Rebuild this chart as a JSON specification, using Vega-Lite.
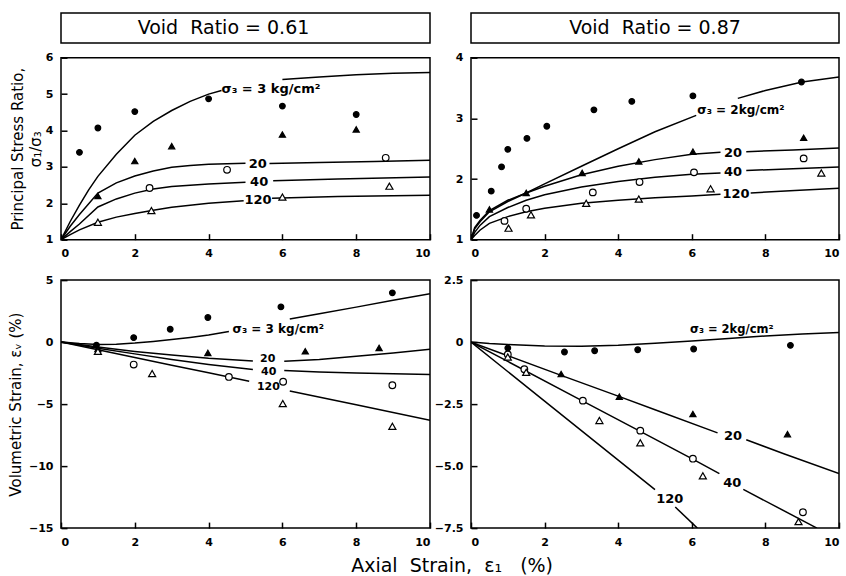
{
  "$schema": "https://vega.github.io/schema/vega-lite/v6.json",
  "background": "white",
  "padding": {"left": 7, "top": 12, "right": 5, "bottom": 5},
  "config": {
    "font": "DejaVu Sans",
    "view": {"stroke": "black", "strokeWidth": 1.5},
    "axis": {
      "grid": false, "zindex": 1, "domain": false, "offset": -6,
      "ticks": true, "tickColor": "black", "tickWidth": 1.5, "tickSize": 6,
      "labelPadding": 8, "labelColor": "black", "labelFontSize": 11, "labelFontWeight": "bold",
      "titleColor": "black", "titleFontSize": 15, "titleFontWeight": "normal"
    }
  },
  "title": {"text": "Axial\u00a0\u00a0Strain,\u00a0\u00a0ε₁\u00a0\u00a0\u00a0(%)", "orient": "bottom", "anchor": "middle", "fontSize": 19, "fontWeight": "normal", "offset": 9, "dx": 28, "color": "black"},
  "datasets": {
    "lines": [
      {"panel":"TL","seg":"3a","x":0,"y":1},{"panel":"TL","seg":"3a","x":0.25,"y":1.5},{"panel":"TL","seg":"3a","x":0.5,"y":1.95},{"panel":"TL","seg":"3a","x":0.75,"y":2.37},{"panel":"TL","seg":"3a","x":1,"y":2.74},{"panel":"TL","seg":"3a","x":1.5,"y":3.35},{"panel":"TL","seg":"3a","x":2,"y":3.87},{"panel":"TL","seg":"3a","x":2.5,"y":4.25},{"panel":"TL","seg":"3a","x":3,"y":4.55},{"panel":"TL","seg":"3a","x":3.5,"y":4.8},{"panel":"TL","seg":"3a","x":4,"y":5.0},{"panel":"TL","seg":"3a","x":4.35,"y":5.1},
      {"panel":"TL","seg":"3b","x":6,"y":5.4},{"panel":"TL","seg":"3b","x":7,"y":5.47},{"panel":"TL","seg":"3b","x":8,"y":5.53},{"panel":"TL","seg":"3b","x":9,"y":5.57},{"panel":"TL","seg":"3b","x":10,"y":5.59},
      {"panel":"TL","seg":"20a","x":0,"y":1},{"panel":"TL","seg":"20a","x":0.25,"y":1.37},{"panel":"TL","seg":"20a","x":0.5,"y":1.69},{"panel":"TL","seg":"20a","x":1,"y":2.28},{"panel":"TL","seg":"20a","x":1.5,"y":2.56},{"panel":"TL","seg":"20a","x":2,"y":2.75},{"panel":"TL","seg":"20a","x":2.5,"y":2.89},{"panel":"TL","seg":"20a","x":3,"y":2.99},{"panel":"TL","seg":"20a","x":3.5,"y":3.04},{"panel":"TL","seg":"20a","x":4,"y":3.07},{"panel":"TL","seg":"20a","x":5.0,"y":3.1},
      {"panel":"TL","seg":"20b","x":5.65,"y":3.09},{"panel":"TL","seg":"20b","x":7,"y":3.12},{"panel":"TL","seg":"20b","x":8.5,"y":3.15},{"panel":"TL","seg":"20b","x":10,"y":3.18},
      {"panel":"TL","seg":"40a","x":0,"y":1},{"panel":"TL","seg":"40a","x":0.25,"y":1.22},{"panel":"TL","seg":"40a","x":0.5,"y":1.43},{"panel":"TL","seg":"40a","x":1,"y":1.9},{"panel":"TL","seg":"40a","x":1.5,"y":2.12},{"panel":"TL","seg":"40a","x":2,"y":2.28},{"panel":"TL","seg":"40a","x":2.5,"y":2.39},{"panel":"TL","seg":"40a","x":3,"y":2.46},{"panel":"TL","seg":"40a","x":4,"y":2.53},{"panel":"TL","seg":"40a","x":5.0,"y":2.58},
      {"panel":"TL","seg":"40b","x":5.75,"y":2.62},{"panel":"TL","seg":"40b","x":7.5,"y":2.67},{"panel":"TL","seg":"40b","x":10,"y":2.72},
      {"panel":"TL","seg":"120a","x":0,"y":1},{"panel":"TL","seg":"120a","x":0.25,"y":1.14},{"panel":"TL","seg":"120a","x":0.5,"y":1.27},{"panel":"TL","seg":"120a","x":1,"y":1.48},{"panel":"TL","seg":"120a","x":1.5,"y":1.62},{"panel":"TL","seg":"120a","x":2,"y":1.72},{"panel":"TL","seg":"120a","x":2.5,"y":1.81},{"panel":"TL","seg":"120a","x":3,"y":1.89},{"panel":"TL","seg":"120a","x":4,"y":2.0},{"panel":"TL","seg":"120a","x":4.95,"y":2.07},
      {"panel":"TL","seg":"120b","x":5.72,"y":2.14},{"panel":"TL","seg":"120b","x":7.5,"y":2.19},{"panel":"TL","seg":"120b","x":10,"y":2.22},

      {"panel":"TR","seg":"2a","x":0,"y":1},{"panel":"TR","seg":"2a","x":0.1,"y":1.18},{"panel":"TR","seg":"2a","x":0.25,"y":1.3},{"panel":"TR","seg":"2a","x":0.5,"y":1.46},{"panel":"TR","seg":"2a","x":1,"y":1.63},{"panel":"TR","seg":"2a","x":1.5,"y":1.77},{"panel":"TR","seg":"2a","x":2,"y":1.92},{"panel":"TR","seg":"2a","x":3,"y":2.21},{"panel":"TR","seg":"2a","x":4,"y":2.5},{"panel":"TR","seg":"2a","x":5,"y":2.78},{"panel":"TR","seg":"2a","x":6.12,"y":3.05},
      {"panel":"TR","seg":"2b","x":7.25,"y":3.33},{"panel":"TR","seg":"2b","x":8,"y":3.46},{"panel":"TR","seg":"2b","x":9,"y":3.6},{"panel":"TR","seg":"2b","x":10,"y":3.68},
      {"panel":"TR","seg":"20a","x":0,"y":1},{"panel":"TR","seg":"20a","x":0.1,"y":1.2},{"panel":"TR","seg":"20a","x":0.25,"y":1.32},{"panel":"TR","seg":"20a","x":0.5,"y":1.48},{"panel":"TR","seg":"20a","x":1,"y":1.65},{"panel":"TR","seg":"20a","x":1.5,"y":1.77},{"panel":"TR","seg":"20a","x":2,"y":1.88},{"panel":"TR","seg":"20a","x":3,"y":2.07},{"panel":"TR","seg":"20a","x":4,"y":2.21},{"panel":"TR","seg":"20a","x":5,"y":2.32},{"panel":"TR","seg":"20a","x":6,"y":2.41},{"panel":"TR","seg":"20a","x":6.78,"y":2.44},
      {"panel":"TR","seg":"20b","x":7.48,"y":2.45},{"panel":"TR","seg":"20b","x":8.75,"y":2.48},{"panel":"TR","seg":"20b","x":10,"y":2.51},
      {"panel":"TR","seg":"40a","x":0,"y":1},{"panel":"TR","seg":"40a","x":0.1,"y":1.12},{"panel":"TR","seg":"40a","x":0.25,"y":1.24},{"panel":"TR","seg":"40a","x":0.5,"y":1.38},{"panel":"TR","seg":"40a","x":1,"y":1.53},{"panel":"TR","seg":"40a","x":1.5,"y":1.65},{"panel":"TR","seg":"40a","x":2,"y":1.74},{"panel":"TR","seg":"40a","x":3,"y":1.87},{"panel":"TR","seg":"40a","x":4,"y":1.96},{"panel":"TR","seg":"40a","x":5,"y":2.03},{"panel":"TR","seg":"40a","x":6,"y":2.08},{"panel":"TR","seg":"40a","x":6.78,"y":2.1},
      {"panel":"TR","seg":"40b","x":7.48,"y":2.14},{"panel":"TR","seg":"40b","x":8.75,"y":2.17},{"panel":"TR","seg":"40b","x":10,"y":2.2},
      {"panel":"TR","seg":"120a","x":0,"y":1},{"panel":"TR","seg":"120a","x":0.1,"y":1.07},{"panel":"TR","seg":"120a","x":0.25,"y":1.16},{"panel":"TR","seg":"120a","x":0.5,"y":1.27},{"panel":"TR","seg":"120a","x":1,"y":1.38},{"panel":"TR","seg":"120a","x":1.5,"y":1.46},{"panel":"TR","seg":"120a","x":2,"y":1.52},{"panel":"TR","seg":"120a","x":3,"y":1.6},{"panel":"TR","seg":"120a","x":4,"y":1.65},{"panel":"TR","seg":"120a","x":5,"y":1.69},{"panel":"TR","seg":"120a","x":6,"y":1.72},{"panel":"TR","seg":"120a","x":6.78,"y":1.75},
      {"panel":"TR","seg":"120b","x":7.6,"y":1.77},{"panel":"TR","seg":"120b","x":8.8,"y":1.81},{"panel":"TR","seg":"120b","x":10,"y":1.85},

      {"panel":"BL","seg":"3a","x":0,"y":0},{"panel":"BL","seg":"3a","x":0.5,"y":-0.12},{"panel":"BL","seg":"3a","x":1,"y":-0.2},{"panel":"BL","seg":"3a","x":1.5,"y":-0.17},{"panel":"BL","seg":"3a","x":2,"y":-0.08},{"panel":"BL","seg":"3a","x":2.5,"y":0.05},{"panel":"BL","seg":"3a","x":3,"y":0.2},{"panel":"BL","seg":"3a","x":3.5,"y":0.38},{"panel":"BL","seg":"3a","x":4,"y":0.58},{"panel":"BL","seg":"3a","x":4.55,"y":0.85},
      {"panel":"BL","seg":"3b","x":6.2,"y":1.86},{"panel":"BL","seg":"3b","x":7,"y":2.28},{"panel":"BL","seg":"3b","x":8,"y":2.82},{"panel":"BL","seg":"3b","x":9,"y":3.37},{"panel":"BL","seg":"3b","x":10,"y":3.9},
      {"panel":"BL","seg":"20a","x":0,"y":0},{"panel":"BL","seg":"20a","x":1,"y":-0.4},{"panel":"BL","seg":"20a","x":2,"y":-0.75},{"panel":"BL","seg":"20a","x":3,"y":-1.05},{"panel":"BL","seg":"20a","x":4,"y":-1.3},{"panel":"BL","seg":"20a","x":5.2,"y":-1.52},
      {"panel":"BL","seg":"20b","x":6.05,"y":-1.54},{"panel":"BL","seg":"20b","x":7,"y":-1.4},{"panel":"BL","seg":"20b","x":8,"y":-1.14},{"panel":"BL","seg":"20b","x":9,"y":-0.88},{"panel":"BL","seg":"20b","x":10,"y":-0.57},
      {"panel":"BL","seg":"40a","x":0,"y":0},{"panel":"BL","seg":"40a","x":1,"y":-0.5},{"panel":"BL","seg":"40a","x":2,"y":-0.95},{"panel":"BL","seg":"40a","x":3,"y":-1.4},{"panel":"BL","seg":"40a","x":4,"y":-1.8},{"panel":"BL","seg":"40a","x":5.2,"y":-2.2},
      {"panel":"BL","seg":"40b","x":6.05,"y":-2.3},{"panel":"BL","seg":"40b","x":7,"y":-2.42},{"panel":"BL","seg":"40b","x":8,"y":-2.5},{"panel":"BL","seg":"40b","x":9,"y":-2.56},{"panel":"BL","seg":"40b","x":10,"y":-2.62},
      {"panel":"BL","seg":"120a","x":0,"y":0},{"panel":"BL","seg":"120a","x":1,"y":-0.62},{"panel":"BL","seg":"120a","x":2,"y":-1.24},{"panel":"BL","seg":"120a","x":3,"y":-1.86},{"panel":"BL","seg":"120a","x":4,"y":-2.47},{"panel":"BL","seg":"120a","x":5.1,"y":-3.15},
      {"panel":"BL","seg":"120b","x":6.2,"y":-3.95},{"panel":"BL","seg":"120b","x":8,"y":-5.05},{"panel":"BL","seg":"120b","x":10,"y":-6.3},

      {"panel":"BR","seg":"2a","x":0,"y":0},{"panel":"BR","seg":"2a","x":0.5,"y":-0.06},{"panel":"BR","seg":"2a","x":1,"y":-0.1},{"panel":"BR","seg":"2a","x":2,"y":-0.16},{"panel":"BR","seg":"2a","x":3,"y":-0.17},{"panel":"BR","seg":"2a","x":4,"y":-0.13},{"panel":"BR","seg":"2a","x":5,"y":-0.05},{"panel":"BR","seg":"2a","x":6,"y":0.04},{"panel":"BR","seg":"2a","x":7,"y":0.15},{"panel":"BR","seg":"2a","x":8,"y":0.25},{"panel":"BR","seg":"2a","x":9,"y":0.33},{"panel":"BR","seg":"2a","x":10,"y":0.39},
      {"panel":"BR","seg":"20a","x":0,"y":0},{"panel":"BR","seg":"20a","x":1,"y":-0.55},{"panel":"BR","seg":"20a","x":2.45,"y":-1.34},{"panel":"BR","seg":"20a","x":4,"y":-2.18},{"panel":"BR","seg":"20a","x":5,"y":-2.73},{"panel":"BR","seg":"20a","x":6.7,"y":-3.66},
      {"panel":"BR","seg":"20b","x":7.48,"y":-3.94},{"panel":"BR","seg":"20b","x":8.5,"y":-4.5},{"panel":"BR","seg":"20b","x":10,"y":-5.3},
      {"panel":"BR","seg":"40a","x":0,"y":0},{"panel":"BR","seg":"40a","x":1,"y":-0.78},{"panel":"BR","seg":"40a","x":3,"y":-2.35},{"panel":"BR","seg":"40a","x":4.6,"y":-3.6},{"panel":"BR","seg":"40a","x":6,"y":-4.7},{"panel":"BR","seg":"40a","x":6.75,"y":-5.3},
      {"panel":"BR","seg":"40b","x":7.4,"y":-5.94},{"panel":"BR","seg":"40b","x":9.4,"y":-7.5},
      {"panel":"BR","seg":"120a","x":0,"y":0},{"panel":"BR","seg":"120a","x":2,"y":-2.38},{"panel":"BR","seg":"120a","x":4,"y":-4.76},{"panel":"BR","seg":"120a","x":5.0,"y":-5.95},
      {"panel":"BR","seg":"120b","x":5.55,"y":-6.65},{"panel":"BR","seg":"120b","x":6.15,"y":-7.5}
    ],
    "points": [
      {"panel":"TL","s":"low","x":0.5,"y":3.4},{"panel":"TL","s":"low","x":1,"y":4.07},{"panel":"TL","s":"low","x":2,"y":4.52},{"panel":"TL","s":"low","x":4,"y":4.87},{"panel":"TL","s":"low","x":6,"y":4.67},{"panel":"TL","s":"low","x":8,"y":4.44},
      {"panel":"TL","s":"20","x":1,"y":2.2},{"panel":"TL","s":"20","x":2,"y":3.16},{"panel":"TL","s":"20","x":3,"y":3.57},{"panel":"TL","s":"20","x":6,"y":3.89},{"panel":"TL","s":"20","x":8,"y":4.03},
      {"panel":"TL","s":"40","x":2.4,"y":2.42},{"panel":"TL","s":"40","x":4.5,"y":2.92},{"panel":"TL","s":"40","x":8.8,"y":3.25},
      {"panel":"TL","s":"120","x":1,"y":1.48},{"panel":"TL","s":"120","x":2.45,"y":1.8},{"panel":"TL","s":"120","x":6,"y":2.17},{"panel":"TL","s":"120","x":8.9,"y":2.47},

      {"panel":"TR","s":"low","x":0.15,"y":1.4},{"panel":"TR","s":"low","x":0.55,"y":1.8},{"panel":"TR","s":"low","x":0.83,"y":2.2},{"panel":"TR","s":"low","x":1,"y":2.49},{"panel":"TR","s":"low","x":1.52,"y":2.67},{"panel":"TR","s":"low","x":2.06,"y":2.87},{"panel":"TR","s":"low","x":3.34,"y":3.14},{"panel":"TR","s":"low","x":4.37,"y":3.28},{"panel":"TR","s":"low","x":6.03,"y":3.37},{"panel":"TR","s":"low","x":8.98,"y":3.6},
      {"panel":"TR","s":"20","x":0.5,"y":1.5},{"panel":"TR","s":"20","x":1.5,"y":1.77},{"panel":"TR","s":"20","x":3.02,"y":2.1},{"panel":"TR","s":"20","x":4.56,"y":2.29},{"panel":"TR","s":"20","x":6.03,"y":2.45},{"panel":"TR","s":"20","x":9.04,"y":2.68},
      {"panel":"TR","s":"40","x":0.91,"y":1.31},{"panel":"TR","s":"40","x":1.5,"y":1.51},{"panel":"TR","s":"40","x":3.31,"y":1.78},{"panel":"TR","s":"40","x":4.58,"y":1.95},{"panel":"TR","s":"40","x":6.06,"y":2.11},{"panel":"TR","s":"40","x":9.04,"y":2.34},
      {"panel":"TR","s":"120","x":1.02,"y":1.19},{"panel":"TR","s":"120","x":1.63,"y":1.41},{"panel":"TR","s":"120","x":3.13,"y":1.6},{"panel":"TR","s":"120","x":4.56,"y":1.67},{"panel":"TR","s":"120","x":6.51,"y":1.84},{"panel":"TR","s":"120","x":9.52,"y":2.1},

      {"panel":"BL","s":"low","x":0.96,"y":-0.25},{"panel":"BL","s":"low","x":1.97,"y":0.36},{"panel":"BL","s":"low","x":2.96,"y":1.04},{"panel":"BL","s":"low","x":3.98,"y":1.98},{"panel":"BL","s":"low","x":5.96,"y":2.84},{"panel":"BL","s":"low","x":8.98,"y":3.97},
      {"panel":"BL","s":"20","x":1,"y":-0.55},{"panel":"BL","s":"20","x":3.98,"y":-0.87},{"panel":"BL","s":"20","x":6.62,"y":-0.74},{"panel":"BL","s":"20","x":8.62,"y":-0.47},
      {"panel":"BL","s":"40","x":1.97,"y":-1.81},{"panel":"BL","s":"40","x":4.55,"y":-2.81},{"panel":"BL","s":"40","x":6.02,"y":-3.2},{"panel":"BL","s":"40","x":8.98,"y":-3.48},
      {"panel":"BL","s":"120","x":1,"y":-0.75},{"panel":"BL","s":"120","x":2.47,"y":-2.54},{"panel":"BL","s":"120","x":6.01,"y":-4.96},{"panel":"BL","s":"120","x":8.98,"y":-6.79},

      {"panel":"BR","s":"low","x":1.0,"y":-0.24},{"panel":"BR","s":"low","x":2.54,"y":-0.4},{"panel":"BR","s":"low","x":3.36,"y":-0.35},{"panel":"BR","s":"low","x":4.53,"y":-0.31},{"panel":"BR","s":"low","x":6.05,"y":-0.28},{"panel":"BR","s":"low","x":8.68,"y":-0.13},
      {"panel":"BR","s":"20","x":2.45,"y":-1.29},{"panel":"BR","s":"20","x":4.03,"y":-2.2},{"panel":"BR","s":"20","x":6.03,"y":-2.9},{"panel":"BR","s":"20","x":8.6,"y":-3.71},
      {"panel":"BR","s":"40","x":1.0,"y":-0.5},{"panel":"BR","s":"40","x":1.45,"y":-1.09},{"panel":"BR","s":"40","x":3.04,"y":-2.36},{"panel":"BR","s":"40","x":4.6,"y":-3.57},{"panel":"BR","s":"40","x":6.03,"y":-4.7},{"panel":"BR","s":"40","x":9.02,"y":-6.86},
      {"panel":"BR","s":"120","x":1.0,"y":-0.6},{"panel":"BR","s":"120","x":1.5,"y":-1.22},{"panel":"BR","s":"120","x":3.49,"y":-3.16},{"panel":"BR","s":"120","x":4.6,"y":-4.06},{"panel":"BR","s":"120","x":6.3,"y":-5.39},{"panel":"BR","s":"120","x":8.9,"y":-7.24}
    ],
    "labels": [
      {"panel":"TL","kind":"sig","x":4.35,"y":5.15,"text":"σ₃  = 3 kg/cm²"},
      {"panel":"TL","kind":"num","x":5.33,"y":3.08,"text":"20"},
      {"panel":"TL","kind":"num","x":5.37,"y":2.58,"text":"40"},
      {"panel":"TL","kind":"num","x":5.34,"y":2.09,"text":"120"},
      {"panel":"TR","kind":"sig","x":6.15,"y":3.14,"text":"σ₃ = 2kg/cm²"},
      {"panel":"TR","kind":"num","x":7.12,"y":2.43,"text":"20"},
      {"panel":"TR","kind":"num","x":7.12,"y":2.11,"text":"40"},
      {"panel":"TR","kind":"num","x":7.2,"y":1.75,"text":"120"},
      {"panel":"BL","kind":"sig","x":4.65,"y":1.05,"text":"σ₃ = 3 kg/cm²"},
      {"panel":"BL","kind":"num","x":5.6,"y":-1.38,"text":"20"},
      {"panel":"BL","kind":"num","x":5.63,"y":-2.45,"text":"40"},
      {"panel":"BL","kind":"num","x":5.62,"y":-3.66,"text":"120"},
      {"panel":"BR","kind":"sig","x":5.95,"y":0.5,"text":"σ₃ = 2kg/cm²"},
      {"panel":"BR","kind":"num","x":7.12,"y":-3.8,"text":"20"},
      {"panel":"BR","kind":"num","x":7.1,"y":-5.69,"text":"40"},
      {"panel":"BR","kind":"num","x":5.4,"y":-6.31,"text":"120"}
    ]
  },
  "columns": 2,
  "bounds": "flush",
  "spacing": {"row": 14.7, "column": 41},
  "concat": [
    {"width": 369, "height": 30, "data": {"values": [{"t": "Void\u00a0\u00a0Ratio = 0.61"}]}, "mark": {"type": "text", "fontSize": 19, "dx": -22, "color": "black"},
     "encoding": {"x": {"datum": 0.5, "type": "quantitative", "scale": {"domain": [0, 1]}, "axis": null}, "y": {"datum": 0.5, "type": "quantitative", "scale": {"domain": [0, 1]}, "axis": null}, "text": {"field": "t"}}},
    {"width": 368, "height": 30, "data": {"values": [{"t": "Void\u00a0\u00a0Ratio = 0.87"}]}, "mark": {"type": "text", "fontSize": 19, "color": "black"},
     "encoding": {"x": {"datum": 0.5, "type": "quantitative", "scale": {"domain": [0, 1]}, "axis": null}, "y": {"datum": 0.5, "type": "quantitative", "scale": {"domain": [0, 1]}, "axis": null}, "text": {"field": "t"}}},
    {
      "width": 369, "height": 182,
      "encoding": {
        "x": {"field": "x", "type": "quantitative", "scale": {"domain": [0, 10], "nice": false}, "axis": {"values": [0, 2, 4, 6, 8, 10], "title": null}},
        "y": {"field": "y", "type": "quantitative", "scale": {"domain": [1, 6], "nice": false, "zero": false}, "axis": {"values": [1, 2, 3, 4, 5, 6], "title": ["Principal Stress Ratio,", "σ₁/σ₃"], "titlePadding": 2, "titleLineHeight": 18}}
      },
      "layer": [
        {"data": {"name": "lines"}, "transform": [{"filter": "datum.panel == 'TL'"}], "mark": {"type": "line", "color": "black", "strokeWidth": 1.5, "clip": true}, "encoding": {"detail": {"field": "seg"}}},
        {"data": {"name": "points"}, "transform": [{"filter": "datum.panel == 'TL'"}], "mark": {"type": "point", "filled": true, "stroke": "black", "strokeWidth": 1.2, "opacity": 1},
         "encoding": {
           "shape": {"field": "s", "type": "nominal", "scale": {"domain": ["low", "20", "40", "120"], "range": ["circle", "triangle-up", "circle", "triangle-up"]}, "legend": null},
           "fill": {"field": "s", "type": "nominal", "scale": {"domain": ["low", "20", "40", "120"], "range": ["black", "black", "white", "white"]}, "legend": null},
           "size": {"field": "s", "type": "nominal", "scale": {"domain": ["low", "20", "40", "120"], "range": [32, 50, 20, 45]}, "legend": null}}},
        {"data": {"name": "labels"}, "transform": [{"filter": "datum.panel == 'TL' && datum.kind == 'sig'"}], "mark": {"type": "text", "align": "left", "fontSize": 13, "fontWeight": "bold", "color": "black"}, "encoding": {"text": {"field": "text"}}},
        {"data": {"name": "labels"}, "transform": [{"filter": "datum.panel == 'TL' && datum.kind == 'num'"}], "mark": {"type": "text", "align": "center", "fontSize": 13, "fontWeight": "bold", "color": "black"}, "encoding": {"text": {"field": "text"}}}
      ]
    },
    {
      "width": 368, "height": 182,
      "encoding": {
        "x": {"field": "x", "type": "quantitative", "scale": {"domain": [0, 10], "nice": false}, "axis": {"values": [0, 2, 4, 6, 8, 10], "title": null}},
        "y": {"field": "y", "type": "quantitative", "scale": {"domain": [1, 4], "nice": false, "zero": false}, "axis": {"values": [1, 2, 3, 4], "title": null}}
      },
      "layer": [
        {"data": {"name": "lines"}, "transform": [{"filter": "datum.panel == 'TR'"}], "mark": {"type": "line", "color": "black", "strokeWidth": 1.5, "clip": true}, "encoding": {"detail": {"field": "seg"}}},
        {"data": {"name": "points"}, "transform": [{"filter": "datum.panel == 'TR'"}], "mark": {"type": "point", "filled": true, "stroke": "black", "strokeWidth": 1.2, "opacity": 1},
         "encoding": {
           "shape": {"field": "s", "type": "nominal", "scale": {"domain": ["low", "20", "40", "120"], "range": ["circle", "triangle-up", "circle", "triangle-up"]}, "legend": null},
           "fill": {"field": "s", "type": "nominal", "scale": {"domain": ["low", "20", "40", "120"], "range": ["black", "black", "white", "white"]}, "legend": null},
           "size": {"field": "s", "type": "nominal", "scale": {"domain": ["low", "20", "40", "120"], "range": [32, 50, 20, 45]}, "legend": null}}},
        {"data": {"name": "labels"}, "transform": [{"filter": "datum.panel == 'TR' && datum.kind == 'sig'"}], "mark": {"type": "text", "align": "left", "fontSize": 12, "fontWeight": "bold", "color": "black"}, "encoding": {"text": {"field": "text"}}},
        {"data": {"name": "labels"}, "transform": [{"filter": "datum.panel == 'TR' && datum.kind == 'num'"}], "mark": {"type": "text", "align": "center", "fontSize": 13, "fontWeight": "bold", "color": "black"}, "encoding": {"text": {"field": "text"}}}
      ]
    },
    {"width": 369, "height": 10.6, "view": {"stroke": null}, "data": {"values": [{"t": ""}]}, "mark": {"type": "text"}, "encoding": {"text": {"field": "t"}}},
    {"width": 368, "height": 10.6, "view": {"stroke": null}, "data": {"values": [{"t": ""}]}, "mark": {"type": "text"}, "encoding": {"text": {"field": "t"}}},
    {
      "width": 369, "height": 248,
      "encoding": {
        "x": {"field": "x", "type": "quantitative", "scale": {"domain": [0, 10], "nice": false}, "axis": {"values": [0, 2, 4, 6, 8, 10], "title": null}},
        "y": {"field": "y", "type": "quantitative", "scale": {"domain": [-15, 5], "nice": false, "zero": false}, "axis": {"values": [-15, -10, -5, 0, 5], "title": "Volumetric Strain, εᵥ (%)", "titlePadding": 5}}
      },
      "layer": [
        {"data": {"name": "lines"}, "transform": [{"filter": "datum.panel == 'BL'"}], "mark": {"type": "line", "color": "black", "strokeWidth": 1.5, "clip": true}, "encoding": {"detail": {"field": "seg"}}},
        {"data": {"name": "points"}, "transform": [{"filter": "datum.panel == 'BL'"}], "mark": {"type": "point", "filled": true, "stroke": "black", "strokeWidth": 1.2, "opacity": 1},
         "encoding": {
           "shape": {"field": "s", "type": "nominal", "scale": {"domain": ["low", "20", "40", "120"], "range": ["circle", "triangle-up", "circle", "triangle-up"]}, "legend": null},
           "fill": {"field": "s", "type": "nominal", "scale": {"domain": ["low", "20", "40", "120"], "range": ["black", "black", "white", "white"]}, "legend": null},
           "size": {"field": "s", "type": "nominal", "scale": {"domain": ["low", "20", "40", "120"], "range": [32, 50, 20, 45]}, "legend": null}}},
        {"data": {"name": "labels"}, "transform": [{"filter": "datum.panel == 'BL' && datum.kind == 'sig'"}], "mark": {"type": "text", "align": "left", "fontSize": 12, "fontWeight": "bold", "color": "black"}, "encoding": {"text": {"field": "text"}}},
        {"data": {"name": "labels"}, "transform": [{"filter": "datum.panel == 'BL' && datum.kind == 'num'"}], "mark": {"type": "text", "align": "center", "fontSize": 11, "fontWeight": "bold", "color": "black"}, "encoding": {"text": {"field": "text"}}}
      ]
    },
    {
      "width": 368, "height": 248,
      "encoding": {
        "x": {"field": "x", "type": "quantitative", "scale": {"domain": [0, 10], "nice": false}, "axis": {"values": [0, 2, 4, 6, 8, 10], "title": null}},
        "y": {"field": "y", "type": "quantitative", "scale": {"domain": [-7.5, 2.5], "nice": false, "zero": false}, "axis": {"values": [-7.5, -5, -2.5, 0, 2.5], "title": null, "labelExpr": "datum.value == 0 ? '0' : format(datum.value, '.1f')"}}
      },
      "layer": [
        {"data": {"name": "lines"}, "transform": [{"filter": "datum.panel == 'BR'"}], "mark": {"type": "line", "color": "black", "strokeWidth": 1.5, "clip": true}, "encoding": {"detail": {"field": "seg"}}},
        {"data": {"name": "points"}, "transform": [{"filter": "datum.panel == 'BR'"}], "mark": {"type": "point", "filled": true, "stroke": "black", "strokeWidth": 1.2, "opacity": 1},
         "encoding": {
           "shape": {"field": "s", "type": "nominal", "scale": {"domain": ["low", "20", "40", "120"], "range": ["circle", "triangle-up", "circle", "triangle-up"]}, "legend": null},
           "fill": {"field": "s", "type": "nominal", "scale": {"domain": ["low", "20", "40", "120"], "range": ["black", "black", "white", "white"]}, "legend": null},
           "size": {"field": "s", "type": "nominal", "scale": {"domain": ["low", "20", "40", "120"], "range": [32, 50, 20, 45]}, "legend": null}}},
        {"data": {"name": "labels"}, "transform": [{"filter": "datum.panel == 'BR' && datum.kind == 'sig'"}], "mark": {"type": "text", "align": "left", "fontSize": 11.5, "fontWeight": "bold", "color": "black"}, "encoding": {"text": {"field": "text"}}},
        {"data": {"name": "labels"}, "transform": [{"filter": "datum.panel == 'BR' && datum.kind == 'num'"}], "mark": {"type": "text", "align": "center", "fontSize": 13, "fontWeight": "bold", "color": "black"}, "encoding": {"text": {"field": "text"}}}
      ]
    }
  ]
}
